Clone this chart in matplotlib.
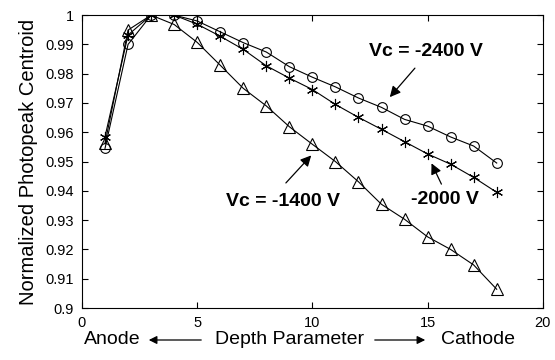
import matplotlib
matplotlib.use("Agg")
import matplotlib.pyplot as plt
from matplotlib.patches import FancyArrowPatch

plt.rcParams['font.family'] = ['Liberation Sans', 'DejaVu Sans']

depth = [1, 2, 3, 4, 5, 6, 7, 8, 9, 10, 11, 12, 13, 14, 15, 16, 17, 18]

# Vc = -2400 V (circles)
vc2400 = [0.9545, 0.990, 1.0, 1.0, 0.998, 0.9943, 0.9906, 0.9874, 0.9824, 0.9788,
          0.9755, 0.9717, 0.9685, 0.9644, 0.9621, 0.9584, 0.9553, 0.9495]
# Vc = -2000 V (stars)
vc2000 = [0.9585, 0.9932, 1.0, 1.0, 0.9969, 0.9928, 0.9883, 0.9827, 0.9785, 0.9746,
          0.9695, 0.9651, 0.961, 0.9568, 0.9526, 0.9491, 0.9446, 0.9395]
# Vc = -1400 V (triangles)
vc1400 = [0.9562, 0.9949, 1.0, 0.9968, 0.9907, 0.9829, 0.975, 0.969, 0.9619, 0.9559,
          0.950, 0.9431, 0.9354, 0.9303, 0.9243, 0.920, 0.9147, 0.9064]

yticks = [0.9, 0.91, 0.92, 0.93, 0.94, 0.95, 0.96, 0.97, 0.98, 0.99, 1.0]
ytick_labels = ['0.9', '0.91', '0.92', '0.93', '0.94', '0.95', '0.96', '0.97', '0.98', '0.99', '1']
xticks = [0, 5, 10, 15, 20]

fig = plt.figure(figsize=(5.55, 3.6), dpi=100)
ax = fig.add_axes([0.1477, 0.1444, 0.8303, 0.8136])

lw = 0.8
ax.plot(depth, vc2400, color='black', lw=lw, marker='o', ms=7, mfc='none', mew=0.8)
ax.plot(depth, vc2000, color='black', lw=lw, marker=(6, 2, 0), ms=8, mew=0.8)
ax.plot(depth, vc1400, color='black', lw=lw, marker='^', ms=8, mfc='none', mew=0.8)

ax.set_xlim(0, 20)
ax.set_ylim(0.9, 1.0)
ax.set_xticks(xticks)
ax.set_xticklabels([str(t) for t in xticks])
ax.set_yticks(yticks)
ax.set_yticklabels(ytick_labels)
ax.tick_params(direction='in', top=True, right=True, labelsize=10.5, length=4, width=0.8, pad=6)
for s in ax.spines.values():
    s.set_linewidth(0.8)

ax.set_ylabel('Normalized Photopeak Centroid', fontsize=14.5, labelpad=5)

# curve labels and their arrows
def label(txt, pos, tail, tip):
    ax.text(pos[0], pos[1], txt, fontsize=14, fontweight='bold', ha='center', va='center')
    ax.add_patch(FancyArrowPatch(tail, tip, arrowstyle='-|>', mutation_scale=16,
                                 color='black', lw=0.9, shrinkA=0, shrinkB=0))

label('Vc = -2400 V', (14.95, 0.9875), (14.45, 0.9819), (13.36, 0.9720))
label('-2000 V', (15.75, 0.9372), (15.6, 0.9423), (15.17, 0.9494))
label('Vc = -1400 V', (8.72, 0.9365), (8.85, 0.9427), (9.95, 0.9521))

# x axis label with arrows
yl = 1 - 340 / 360
fig.text(112 / 555, yl, 'Anode', fontsize=14, ha='center', va='center')
fig.text(290 / 555, yl, 'Depth Parameter', fontsize=14, ha='center', va='center')
fig.text(478 / 555, yl, 'Cathode', fontsize=14, ha='center', va='center')
fig.add_artist(FancyArrowPatch((204 / 555, yl), (146 / 555, yl), transform=fig.transFigure,
                               arrowstyle='-|>', mutation_scale=12, color='black', lw=0.9))
fig.add_artist(FancyArrowPatch((372 / 555, yl), (428 / 555, yl), transform=fig.transFigure,
                               arrowstyle='-|>', mutation_scale=12, color='black', lw=0.9))

fig.savefig('out.png', dpi=100)
